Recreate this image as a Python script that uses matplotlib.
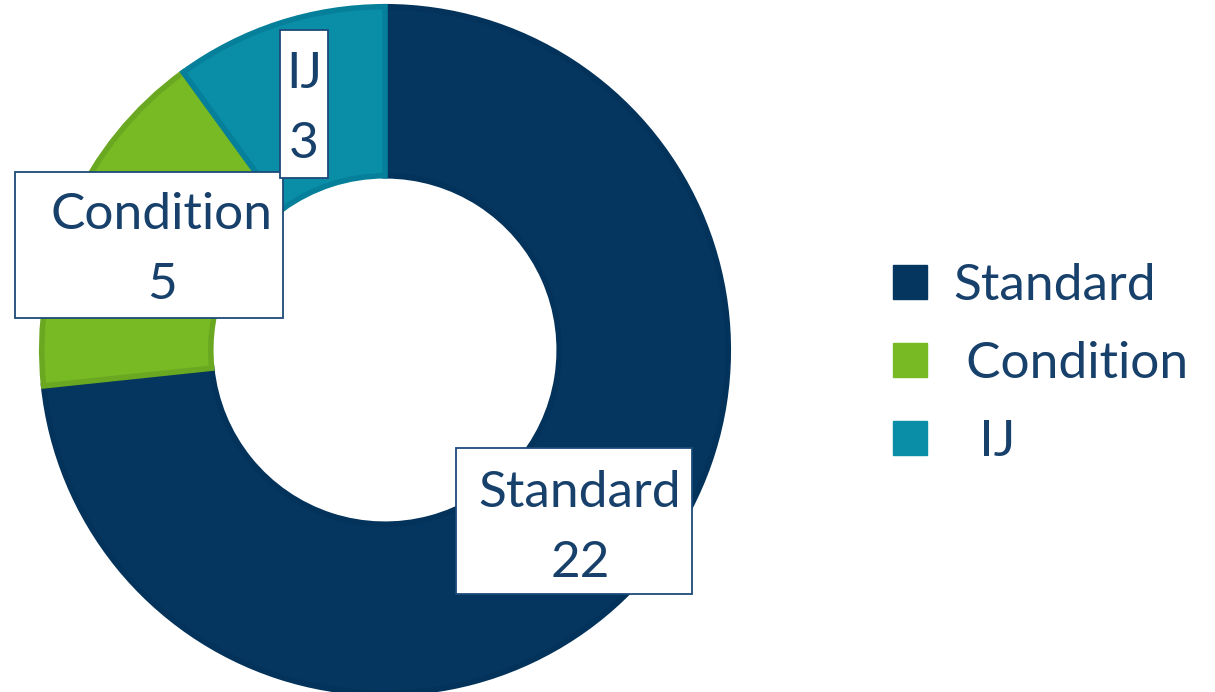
import matplotlib
matplotlib.use("Agg")
import matplotlib.pyplot as plt
from matplotlib.lines import Line2D
from matplotlib.patches import Rectangle

# Data
categories = ["Standard", "Condition", "IJ"]
counts = [22, 5, 3]
legend_labels = ["Standard", " Condition", "  IJ"]

fill_colors = ["#04365f", "#77ba24", "#0a8ea8"]
edge_colors = ["#03325a", "#6aa822", "#06809a"]
text_color = "#17406b"
font = "Lato"

W, H = 1215, 692
fig = plt.figure(figsize=(W / 100, H / 100), dpi=100)
fig.patch.set_facecolor("white")

# Donut axes: centre (385, 350) px, outer radius 345 px
cx, cy, R = 385, 350, 345
ax = fig.add_axes([(cx - R) / W, (H - cy - R) / H, 2 * R / W, 2 * R / H])
ax.axis("off")

wedges, _ = ax.pie(
    counts, colors=fill_colors, startangle=90, counterclock=False,
    radius=0.995, wedgeprops=dict(width=0.49, linewidth=4),
)
for w, ec in zip(wedges, edge_colors):
    w.set_edgecolor(ec)
ax.set_xlim(-1, 1)
ax.set_ylim(-1, 1)
ax.set_aspect("equal")


def px(x, y):
    return (x - cx) / R, (cy - y) / R


# Data labels: white boxes with a dark blue outline
boxes = [
    ((456, 448, 692, 594), (580, 528)),
    ((15, 172, 283, 318), (162, 250)),
    ((280, 30, 328, 178), (304, 109)),
]
for ((x0, y0, x1, y1), (tx, ty)), name, val in zip(boxes, categories, counts):
    bx0, by1 = px(x0, y0)
    bx1, by0 = px(x1, y1)
    ax.add_patch(Rectangle((bx0, by0), bx1 - bx0, by1 - by0,
                           facecolor="white", edgecolor="#1d4a78",
                           linewidth=1.3, zorder=5, clip_on=False))
    tx_d, ty_d = px(tx, ty)
    ax.text(tx_d, ty_d, f"{name}\n{val}", ha="center", va="center",
            fontsize=37, family=font, color=text_color, linespacing=1.67,
            zorder=6, clip_on=False)

# Legend
handles = [Line2D([], [], linestyle="none", marker="s", markersize=24,
                  markerfacecolor=c, markeredgecolor=c) for c in fill_colors]
fig.legend(handles, legend_labels, loc="center left",
           bbox_to_anchor=(866 / W, 1 - 364 / H), frameon=False,
           prop=dict(family=font, size=37), labelcolor=text_color,
           handlelength=0.7, handletextpad=0.5, labelspacing=0.63,
           borderpad=0)

fig.savefig("out.png", dpi=100, facecolor="white")
